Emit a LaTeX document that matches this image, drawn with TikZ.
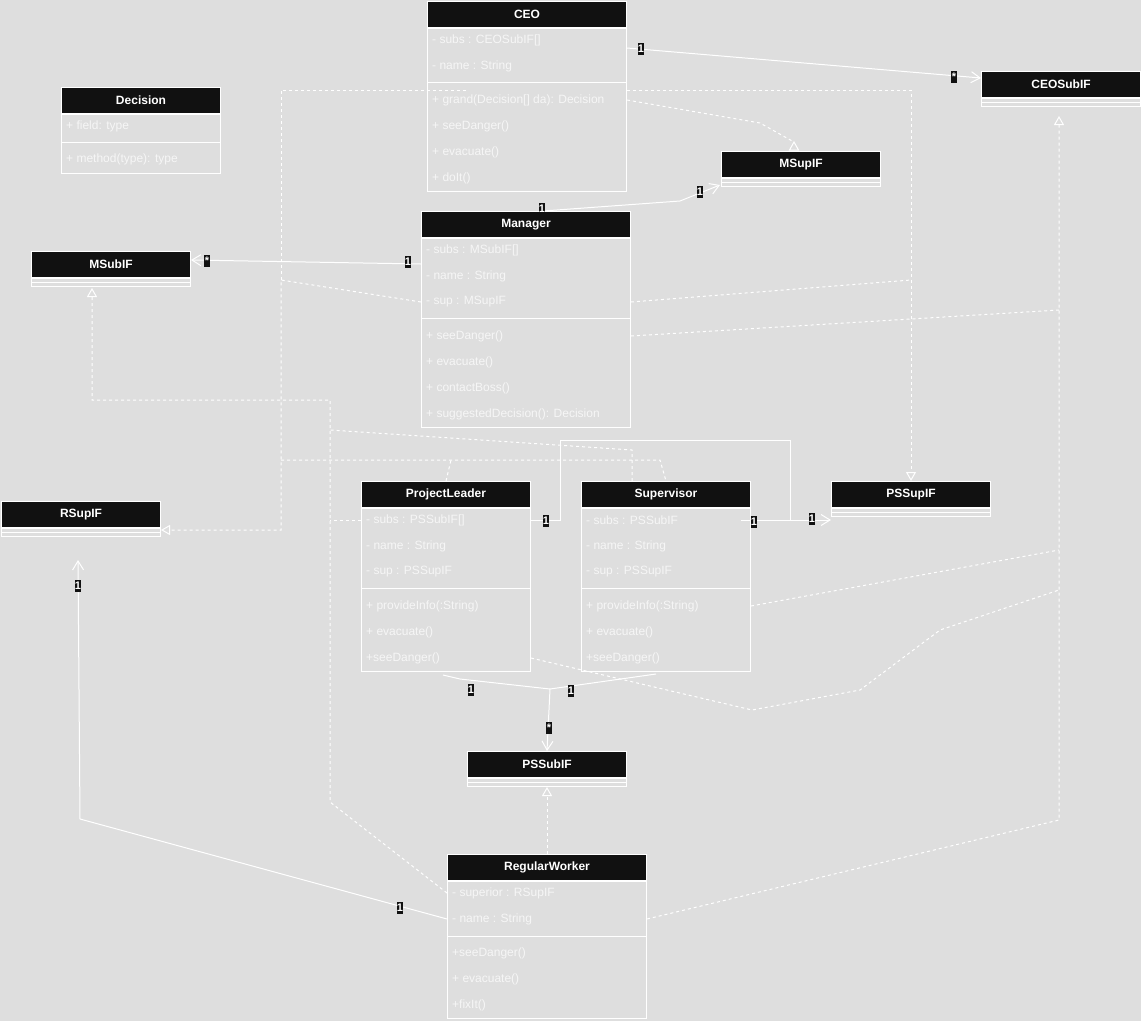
\documentclass[tikz,border=0pt]{standalone}
\usepackage{fontspec}
\setmainfont{Liberation Sans}
\usetikzlibrary{positioning,arrows.meta,calc}

\definecolor{bg}{RGB}{222,222,222}
\definecolor{hd}{RGB}{17,17,17}
\definecolor{txt}{RGB}{246,246,246}

\tikzset{
  cls/.style={draw=white, line width=1pt, fill=hd, text=white, anchor=north west,
    minimum height=26pt, inner sep=0pt, font=\fontsize{12}{14}\selectfont\bfseries},
  cbody/.style={draw=white, line width=1pt, anchor=north west, inner sep=0pt},
  row/.style={text=txt, anchor=west, inner sep=0pt, font=\fontsize{12}{14}\selectfont},
  wline/.style={draw=white, line width=1pt},
  dline/.style={wline, dash pattern=on 3pt off 3pt},
  assoc/.style={wline, -{Straight Barb[length=9pt,width=11pt]}},
  impl/.style={dline, -{Triangle[length=9pt,width=10pt,fill=bg]}},
  mult/.style={fill=hd, text=white, inner xsep=0.4pt, inner ysep=0.5pt,
    text height=8.5pt, text depth=2pt, font=\fontsize{11}{11}\selectfont\bfseries}
}

\begin{document}
\begin{tikzpicture}[x=1pt, y=-1pt]
  \fill[bg] (0,0) rectangle (1141,1021);
  \useasboundingbox (0,0) rectangle (1141,1021);

  % CEO
  \node[cls, minimum width=199pt] (ceo) at (427,1) {CEO};
  \node[cbody, minimum width=199pt, minimum height=163pt] (ceob) at (ceo.south west) {};
  \draw[wline] (427,82) -- (626,82);
  \foreach \lbl [count=\i] in {{- subs : CEOSubIF[]}, {- name : String}}
    \node[row] (ceo-f\i) at (432,14+26*\i) {\lbl};
  \foreach \lbl [count=\i] in {{+ grand(Decision[] da): Decision}, {+ seeDanger()}, {+ evacuate()}, {+ doIt()}}
    \node[row] (ceo-m\i) at (432,74+26*\i) {\lbl};

  % Decision
  \node[cls, minimum width=159pt] (dec) at (61,87) {Decision};
  \node[cbody, minimum width=159pt, minimum height=59pt] (decb) at (dec.south west) {};
  \draw[wline] (61,142) -- (220,142);
  \node[row] (dec-f1) at (66,126) {+ field: type};
  \node[row] (dec-m1) at (66,159) {+ method(type): type};

  % interfaces
  \foreach \nm/\lbl/\x/\y in {ceosubif/CEOSubIF/981/71, msupif/MSupIF/721/151, msubif/MSubIF/31/251,
      rsupif/RSupIF/1/501, pssupif/PSSupIF/831/481, pssubif/PSSubIF/467/751} {
    \node[cls, minimum width=159pt] (\nm) at (\x,\y) {\lbl};
    \draw[wline] (\nm.south west) rectangle ++(159,8) (\nm.south west) ++(0,4) -- ++(159,0);
  }

  % Manager
  \node[cls, minimum width=209pt] (mgr) at (421,211) {Manager};
  \node[cbody, minimum width=209pt, minimum height=189pt] (mgrb) at (mgr.south west) {};
  \draw[wline] (421,318) -- (630,318);
  \foreach \lbl [count=\i] in {{- subs : MSubIF[]}, {- name : String}, {- sup : MSupIF}}
    \node[row] (mgr-f\i) at (426,224+26*\i) {\lbl};
  \foreach \lbl [count=\i] in {{+ seeDanger()}, {+ evacuate()}, {+ contactBoss()}, {+ suggestedDecision(): Decision}}
    \node[row] (mgr-m\i) at (426,310+26*\i) {\lbl};

  % ProjectLeader
  \node[cls, minimum width=169pt] (pl) at (361,481) {ProjectLeader};
  \node[cbody, minimum width=169pt, minimum height=163pt] (plb) at (pl.south west) {};
  \draw[wline] (361,588) -- (530,588);
  \foreach \lbl [count=\i] in {{- subs : PSSubIF[]}, {- name : String}, {- sup : PSSupIF}}
    \node[row] (pl-f\i) at (366,494+26*\i) {\lbl};
  \foreach \lbl [count=\i] in {{+ provideInfo(:String)}, {+ evacuate()}, {+seeDanger()}}
    \node[row] (pl-m\i) at (366,580+26*\i) {\lbl};

  % Supervisor
  \node[cls, minimum width=169pt] (sup) at (581,481) {Supervisor};
  \node[cbody, minimum width=169pt, minimum height=163pt] (supb) at (sup.south west) {};
  \draw[wline] (581,588) -- (750,588);
  \foreach \lbl [count=\i] in {{- subs : PSSubIF}, {- name : String}, {- sup : PSSupIF}}
    \node[row] (sup-f\i) at (586,494+26*\i) {\lbl};
  \foreach \lbl [count=\i] in {{+ provideInfo(:String)}, {+ evacuate()}, {+seeDanger()}}
    \node[row] (sup-m\i) at (586,580+26*\i) {\lbl};

  % RegularWorker
  \node[cls, minimum width=199pt] (rw) at (447,854) {RegularWorker};
  \node[cbody, minimum width=199pt, minimum height=137pt] (rwb) at (rw.south west) {};
  \draw[wline] (447,936) -- (646,936);
  \foreach \lbl [count=\i] in {{- superior : RSupIF}, {- name : String}}
    \node[row] (rw-f\i) at (452,867+26*\i) {\lbl};
  \foreach \lbl [count=\i] in {{+seeDanger()}, {+ evacuate()}, {+fixIt()}}
    \node[row] (rw-m\i) at (452,927+26*\i) {\lbl};

  % associations
  \draw[assoc] (ceo.east |- 0,48) -- (ceosubif.west |- 0,78);
  \draw[assoc] ($(mgr.north west)+(122,0)$) -- (680,201) -- ($(msupif.south west)+(-1,7)$);
  \draw[assoc] (mgr.west |- 0,264) -- (msubif.east |- 0,260);
  \draw[assoc] (pl-f1 -| pl.east) -- (560,520) -- (560,440) -- (790,440) -- (790,520) -- (pssupif.west |- 0,520);
  \draw[wline] ($(sup-f1 -| sup.east)+(-10,0)$) -- (790,520);
  \draw[wline] ($(plb.south)+(-3,3)$) -- (460,679) -- (550,689);
  \draw[assoc] ($(supb.south)+(-10,2)$) -- (550,689) -- (pssubif.north);
  \draw[assoc] (rw-f2 -| rw.west) -- (80,819) -- (78,560);

  % realizations
  \draw[dline] (ceo-m1 -| ceo.east) -- (760,123) -- (794,142);
  \draw[wline, fill=bg] (794,142) -- ++(-4.5,8) -- ++(9,0) -- cycle;
  \draw[impl] (mgr-f3 -| mgr.west) -- (281,280) -- (281,530) -- (rsupif.east |- 0,530);
  \draw[dline] (281,280) -- (281,90) -- (467,90);
  \draw[impl] (ceo.east |- 0,90) -- (pssupif.north |- 0,90) -- (pssupif.north);
  \draw[dline] (mgr-f3 -| mgr.east) -- (pssupif.north |- 0,280);
  \draw[dline] (281,460) -- (660,460) -- (sup.north);
  \draw[dline] (pl.north) -- (451,460);
  \draw[impl] (rw-f1 -| rw.west) -- (330,802) -- (330,400) -- (92,400) -- (92,288);
  \draw[dline] (pl-f1 -| pl.west) -- (330,520);
  \draw[dline] (sup.north -| 632,0) -- (632,450) -- (330,430);
  \draw[impl] (rw-f2 -| rw.east) -- (1059,820) -- (1059,116);
  \draw[dline] (mgr-m1 -| mgr.east) -- (1059,310);
  \draw[dline] (sup-m1 -| sup.east) -- (1059,550);
  \draw[dline] (pl-m3 -| pl.east) -- (752,710) -- (860,690) -- (940,630) -- (1059,590);
  \draw[impl] (rw.north) -- ($(pssubif.south)+(0,9)$);

  % multiplicities
  \node[mult] (mk1) at (641,49) {1};
  \node[mult] (mk2) at (954,77) {*};
  \node[mult] (mk3) at (542,209) {1};
  \node[mult] (mk4) at (700,192) {1};
  \node[mult] (mk5) at (408,262) {1};
  \node[mult] (mk6) at (207,261) {*};
  \node[mult] (mk7) at (546,521) {1};
  \node[mult] (mk8) at (754,522) {1};
  \node[mult] (mk9) at (812,519) {1};
  \node[mult] (mk10) at (471,690) {1};
  \node[mult] (mk11) at (571,691) {1};
  \node[mult] (mk12) at (549,728) {*};
  \node[mult] (mk13) at (400,908) {1};
  \node[mult] (mk14) at (78,586) {1};
\end{tikzpicture}
\end{document}
